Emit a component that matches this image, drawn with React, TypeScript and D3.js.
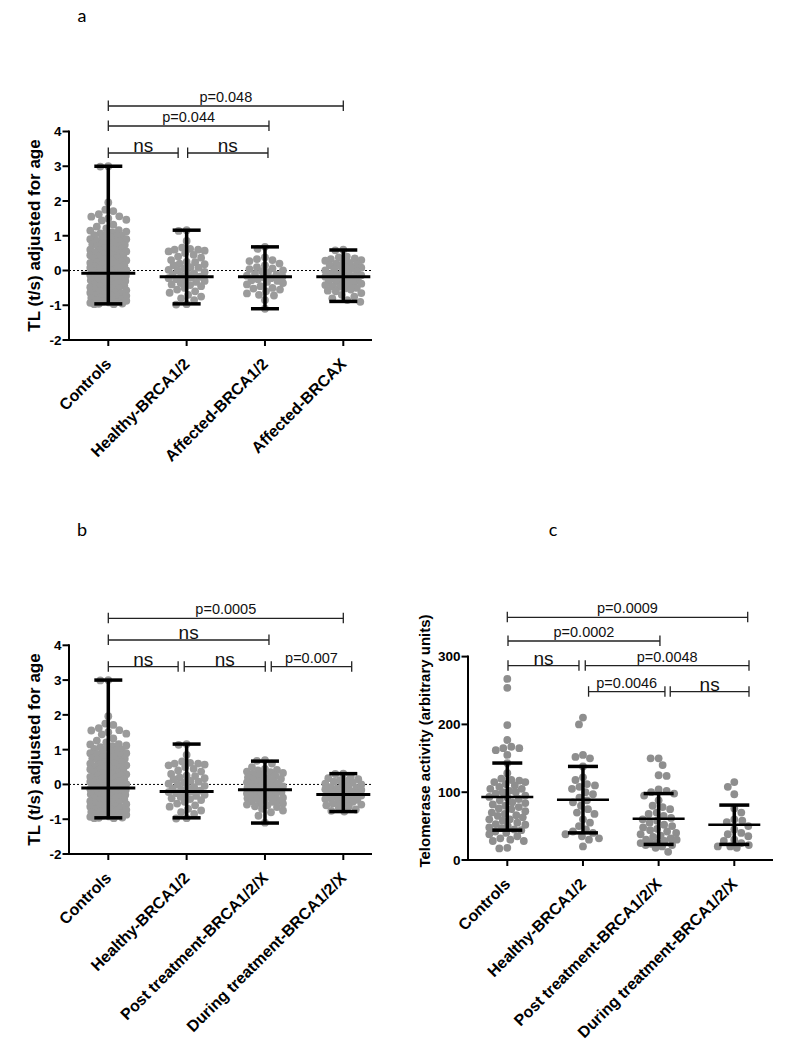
import React, { useMemo } from 'react';
import * as d3 from 'd3';

// ---------- categories ----------
const catsA = ['Controls', 'Healthy-BRCA1/2', 'Affected-BRCA1/2', 'Affected-BRCAX'];
const catsB = ['Controls', 'Healthy-BRCA1/2', 'Post treatment-BRCA1/2/X', 'During treatment-BRCA1/2/X'];
const catsC = ['Controls', 'Healthy-BRCA1/2', 'Post treatment-BRCA1/2/X', 'During treatment-BRCA1/2/X'];

// ---------- tick labels ----------
const tlTicks = [-2, -1, 0, 1, 2, 3, 4];
const taTicks = [0, 100, 200, 300];

// ---------- TL (t/s) adjusted for age ----------
const controlsTL = [3.0, 2.99, 1.96, 1.75, 1.71, 1.62, 1.56, 1.55, 1.5, 1.46, 1.44, 1.32, 1.26, 1.21, 1.16, 1.15, 1.12, 1.1, 1.07, 1.05, 1.02, 1.0, 0.98, 0.95, 0.93, 0.9, 0.9, 0.86, 0.84, 0.82, 0.8, 0.77, 0.75, 0.74, 0.71, 0.7, 0.68, 0.65, 0.63, 0.6, 0.6, 0.58, 0.55, 0.53, 0.52, 0.5, 0.47, 0.45, 0.44, 0.42, 0.4, 0.38, 0.36, 0.35, 0.33, 0.3, 0.29, 0.27, 0.25, 0.22, 0.21, 0.2, 0.17, 0.15, 0.14, 0.12, 0.1, 0.08, 0.06, 0.05, 0.03, 0.01, 0.0, -0.02, -0.04, -0.05, -0.08, -0.1, -0.11, -0.13, -0.15, -0.17, -0.19, -0.2, -0.22, -0.24, -0.26, -0.28, -0.3, -0.31, -0.33, -0.35, -0.37, -0.39, -0.4, -0.42, -0.44, -0.46, -0.48, -0.5, -0.51, -0.53, -0.55, -0.57, -0.58, -0.6, -0.62, -0.64, -0.66, -0.68, -0.7, -0.72, -0.73, -0.75, -0.77, -0.79, -0.8, -0.82, -0.84, -0.85, -0.87, -0.89, -0.9, -0.92, -0.93, -0.95, -0.96, -0.97, -0.97];
const healthyTL = [1.16, 1.14, 0.85, 0.66, 0.62, 0.6, 0.6, 0.57, 0.55, 0.5, 0.45, 0.4, 0.37, 0.3, 0.25, 0.24, 0.2, 0.18, 0.15, 0.1, 0.08, 0.05, 0.02, 0.0, -0.04, -0.08, -0.1, -0.12, -0.15, -0.18, -0.2, -0.22, -0.25, -0.28, -0.3, -0.33, -0.36, -0.4, -0.42, -0.45, -0.5, -0.55, -0.6, -0.64, -0.7, -0.75, -0.8, -0.85, -0.97, -0.98];
const affectedTL = [0.68, 0.62, 0.38, 0.33, 0.3, 0.27, 0.2, 0.15, 0.1, 0.06, 0.04, 0.0, -0.02, -0.05, -0.1, -0.12, -0.15, -0.18, -0.2, -0.22, -0.25, -0.28, -0.3, -0.33, -0.36, -0.4, -0.45, -0.5, -0.52, -0.55, -0.6, -0.66, -0.7, -0.72, -0.85, -1.1];
const brcaxTL = [0.6, 0.58, 0.4, 0.38, 0.35, 0.33, 0.3, 0.28, 0.26, 0.22, 0.2, 0.18, 0.15, 0.12, 0.1, 0.08, 0.05, 0.03, 0.0, -0.02, -0.05, -0.07, -0.1, -0.12, -0.14, -0.16, -0.18, -0.2, -0.22, -0.24, -0.26, -0.28, -0.3, -0.32, -0.34, -0.36, -0.38, -0.4, -0.42, -0.45, -0.47, -0.5, -0.52, -0.55, -0.58, -0.6, -0.65, -0.7, -0.75, -0.8, -0.85, -0.9];
const postTL = [0.7, 0.68, 0.6, 0.5, 0.45, 0.42, 0.4, 0.37, 0.35, 0.33, 0.3, 0.28, 0.25, 0.22, 0.2, 0.18, 0.16, 0.14, 0.12, 0.1, 0.08, 0.06, 0.04, 0.02, 0.0, -0.02, -0.04, -0.06, -0.08, -0.1, -0.12, -0.14, -0.16, -0.18, -0.2, -0.22, -0.24, -0.26, -0.28, -0.3, -0.32, -0.34, -0.36, -0.38, -0.4, -0.42, -0.44, -0.46, -0.48, -0.5, -0.53, -0.55, -0.58, -0.6, -0.63, -0.65, -0.7, -0.75, -0.8, -0.9, -1.1];
const duringTL = [0.31, 0.3, 0.22, 0.18, 0.15, 0.12, 0.1, 0.08, 0.05, 0.02, 0.0, -0.02, -0.05, -0.08, -0.1, -0.12, -0.14, -0.16, -0.18, -0.2, -0.22, -0.24, -0.26, -0.28, -0.3, -0.32, -0.34, -0.36, -0.38, -0.4, -0.42, -0.44, -0.46, -0.48, -0.5, -0.52, -0.55, -0.58, -0.6, -0.63, -0.67, -0.72, -0.76, -0.78];

// summary bars (mean, range)
const meanA = [-0.08, -0.18, -0.18, -0.18];
const lowA = [-0.96, -0.96, -1.1, -0.89];
const highA = [3.0, 1.16, 0.68, 0.59];
const meanB = [-0.1, -0.2, -0.15, -0.29];
const lowB = [-0.96, -0.96, -1.11, -0.78];
const highB = [3.0, 1.16, 0.67, 0.31];

// ---------- Telomerase activity ----------
const controlsTA = [267, 254, 199, 177, 167, 165, 165, 162, 155, 143, 128, 120, 118, 117, 115, 115, 112, 110, 108, 105, 105, 102, 100, 100, 98, 95, 93, 92, 90, 88, 85, 84, 82, 80, 78, 76, 75, 72, 70, 68, 66, 65, 63, 60, 60, 58, 55, 53, 52, 50, 48, 47, 45, 44, 42, 40, 38, 35, 32, 30, 28, 28, 18, 17];
const healthyTA = [210, 200, 155, 152, 150, 138, 122, 118, 112, 110, 108, 105, 100, 97, 92, 88, 85, 80, 75, 70, 68, 60, 55, 50, 45, 42, 40, 38, 35, 32, 30, 20];
const postTA = [150, 150, 140, 125, 124, 104, 102, 100, 98, 95, 88, 80, 78, 75, 70, 68, 65, 62, 60, 58, 55, 52, 50, 48, 46, 44, 42, 40, 38, 36, 34, 32, 30, 30, 28, 26, 25, 24, 22, 22, 20, 18, 12];
const duringTA = [115, 108, 97, 76, 70, 60, 58, 56, 50, 45, 40, 38, 35, 30, 28, 25, 22, 20, 20, 18];
const meanC = [93, 89, 61, 52];
const lowC = [44, 40, 23, 23];
const highC = [143, 138, 98, 81];

// ---------- comparisons ----------
const compFromA = [0, 1, 0, 0];
const compToA = [1, 2, 2, 3];
const compLabelA = ['ns', 'ns', 'p=0.044', 'p=0.048'];
const compFromB = [0, 1, 2, 0, 0];
const compToB = [1, 2, 3, 2, 3];
const compLabelB = ['ns', 'ns', 'p=0.007', 'ns', 'p=0.0005'];
const compFromC = [1, 2, 0, 1, 0, 0];
const compToC = [2, 3, 1, 3, 2, 3];
const compLabelC = ['p=0.0046', 'ns', 'ns', 'p=0.0048', 'p=0.0002', 'p=0.0009'];

// ---------- layout (pixels) ----------
const FONT = "'Liberation Sans', Arial, Helvetica, sans-serif";

function swarm(values: number[], y: (v: number) => number, r: number, maxOff: number) {
  const order = values.map((v, i) => ({ v, i })).sort((a, b) => b.v - a.v);
  const placed: { x: number; y: number }[] = [];
  const cands: number[] = [0];
  for (let k = 0.5; k <= maxOff + 1e-9; k += 0.5) { cands.push(k, -k); }
  order.forEach(({ v }, n) => {
    const py = y(v);
    const nb = placed.filter(p => Math.abs(p.y - py) < 2 * r);
    let found: number | null = null;
    let best = 0, bestScore = -Infinity;
    for (const c0 of cands) {
      const c = n % 2 === 0 ? c0 : -c0;
      let md = Infinity;
      for (const p of nb) { const d = Math.hypot(p.x - c, p.y - py); if (d < md) md = d; }
      if (md >= 2 * r - 0.05) { found = c; break; }
      if (md > bestScore + 0.01) { bestScore = md; best = c; }
    }
    placed.push({ x: found !== null ? found : best, y: py });
  });
  return placed;
}

type PanelCfg = {
  letter: string; letterX: number; letterY: number;
  cats: string[]; groups: number[][]; mean: number[]; low: number[]; high: number[];
  xRange: [number, number]; axisX: number; axisRight: number;
  yDomain: [number, number]; yRange: [number, number]; ticks: number[];
  zeroLine: boolean; yLabel: string; yLabelX: number; yLabelY: number; yLabelSize: number;
  dotColor: string; meanHalf: number; capHalf: number; meanW: number;
  cFrom: number[]; cTo: number[]; cLabel: string[];
  cLevelY: number[]; cNudgeL: number[]; cNudgeR: number[];
};

function Panel({ c }: { c: PanelCfg }) {
  const x = d3.scalePoint<string>().domain(c.cats).range(c.xRange).padding(0);
  const y = d3.scaleLinear().domain(c.yDomain).range(c.yRange);
  const r = 3.9;
  const swarms = useMemo(() => c.groups.map(g => swarm(g, y, r, 18)), [c]);
  const axisY = y(c.yDomain[0]);
  const axisTop = y(c.yDomain[1]);
  return (
    <g>
      <text x={c.letterX} y={c.letterY} fontFamily="Lato, 'Open Sans', sans-serif" fontSize={18} textAnchor="middle">{c.letter}</text>
      {c.zeroLine && (
        <line x1={c.axisX} x2={c.axisRight} y1={y(0)} y2={y(0)} stroke="#000" strokeWidth={1} strokeDasharray="2,2" />
      )}
      {swarms.map((s, gi) => (
        <g key={gi}>
          {s.map((p, i) => (
            <circle key={i} cx={(x(c.cats[gi]) as number) + p.x} cy={p.y} r={r} fill={c.dotColor} />
          ))}
        </g>
      ))}
      {c.cats.map((cat, gi) => {
        const cx = x(cat) as number;
        return (
          <g key={cat} stroke="#000">
            <line x1={cx} x2={cx} y1={y(c.low[gi])} y2={y(c.high[gi])} strokeWidth={3.5} />
            <line x1={cx - c.capHalf} x2={cx + c.capHalf} y1={y(c.low[gi])} y2={y(c.low[gi])} strokeWidth={3.5} />
            <line x1={cx - c.capHalf} x2={cx + c.capHalf} y1={y(c.high[gi])} y2={y(c.high[gi])} strokeWidth={3.5} />
            <line x1={cx - c.meanHalf} x2={cx + c.meanHalf} y1={y(c.mean[gi])} y2={y(c.mean[gi])} strokeWidth={c.meanW} />
          </g>
        );
      })}
      {/* axes */}
      <line x1={c.axisX} x2={c.axisX} y1={axisTop - 1} y2={axisY + 1} stroke="#000" strokeWidth={2} />
      <line x1={c.axisX - 1} x2={c.axisRight} y1={axisY} y2={axisY} stroke="#000" strokeWidth={2} />
      {c.ticks.map(t => (
        <g key={t}>
          <line x1={c.axisX - 6.5} x2={c.axisX} y1={y(t)} y2={y(t)} stroke="#000" strokeWidth={2} />
          <text x={c.axisX - 7.5} y={y(t)} dy="0.36em" textAnchor="end" fontFamily={FONT} fontWeight="bold" fontSize={13.5}>{t}</text>
        </g>
      ))}
      {c.cats.map(cat => {
        const cx = x(cat) as number;
        return (
          <g key={cat}>
            <line x1={cx} x2={cx} y1={axisY} y2={axisY + 6} stroke="#000" strokeWidth={2} />
            <text transform={`translate(${cx + 4},${axisY + 25}) rotate(-45)`} textAnchor="end" fontFamily={FONT} fontWeight="bold" fontSize={16}>{cat}</text>
          </g>
        );
      })}
      <text transform={`translate(${c.yLabelX},${c.yLabelY}) rotate(-90)`} dy="0.35em" textAnchor="middle" fontFamily={FONT} fontWeight="bold" fontSize={c.yLabelSize}>{c.yLabel}</text>
      {/* comparison brackets */}
      {c.cFrom.map((f, i) => {
        const x1 = (x(c.cats[f]) as number) + c.cNudgeL[i];
        const x2 = (x(c.cats[c.cTo[i]]) as number) + c.cNudgeR[i];
        const ly = c.cLevelY[i];
        const isNs = c.cLabel[i] === 'ns';
        return (
          <g key={i}>
            <line x1={x1} x2={x2} y1={ly} y2={ly} stroke="#222" strokeWidth={1.3} />
            <line x1={x1} x2={x1} y1={ly - 5.5} y2={ly + 5} stroke="#222" strokeWidth={1.3} />
            <line x1={x2} x2={x2} y1={ly - 5.5} y2={ly + 5} stroke="#222" strokeWidth={1.3} />
            <text x={(x1 + x2) / 2} y={ly - (isNs ? 1 : 4)} textAnchor="middle" fontFamily={FONT} fontSize={isNs ? 19 : 14.5} fill="#111">{c.cLabel[i]}</text>
          </g>
        );
      })}
    </g>
  );
}

const panelA: PanelCfg = {
  letter: 'a', letterX: 82, letterY: 22,
  cats: catsA, groups: [controlsTL, healthyTL, affectedTL, brcaxTL], mean: meanA, low: lowA, high: highA,
  xRange: [108.3, 343.3], axisX: 69, axisRight: 372,
  yDomain: [-2, 4], yRange: [340, 131.5], ticks: tlTicks, zeroLine: true,
  yLabel: 'TL (t/s) adjusted for age', yLabelX: 34, yLabelY: 235.5, yLabelSize: 17,
  dotColor: '#9b9b9b', meanHalf: 27, capHalf: 14, meanW: 3,
  cFrom: compFromA, cTo: compToA, cLabel: compLabelA,
  cLevelY: [153, 153, 126, 106], cNudgeL: [0, 1, 0, 0], cNudgeR: [-8.5, 3, 4, 0],
};

const panelB: PanelCfg = {
  letter: 'b', letterX: 82, letterY: 536,
  cats: catsB, groups: [controlsTL, healthyTL, postTL, duringTL], mean: meanB, low: lowB, high: highB,
  xRange: [108.3, 343.3], axisX: 69, axisRight: 372,
  yDomain: [-2, 4], yRange: [854, 645.3], ticks: tlTicks, zeroLine: true,
  yLabel: 'TL (t/s) adjusted for age', yLabelX: 34, yLabelY: 749.5, yLabelSize: 17,
  dotColor: '#9b9b9b', meanHalf: 27, capHalf: 14, meanW: 3,
  cFrom: compFromB, cTo: compToB, cLabel: compLabelB,
  cLevelY: [666.7, 666.7, 666.7, 640, 618.3], cNudgeL: [0, -2.4, 6.3, 0, 0], cNudgeR: [-8.5, 0.3, 8.4, 4, 0],
};

const panelC: PanelCfg = {
  letter: 'c', letterX: 553, letterY: 536,
  cats: catsC, groups: [controlsTA, healthyTA, postTA, duringTA], mean: meanC, low: lowC, high: highC,
  xRange: [507.3, 734.3], axisX: 468, axisRight: 773,
  yDomain: [0, 300], yRange: [860, 656.6], ticks: taTicks, zeroLine: false,
  yLabel: 'Telomerase activity (arbitrary units)', yLabelX: 425, yLabelY: 741, yLabelSize: 15,
  dotColor: '#8e8e8e', meanHalf: 26, capHalf: 15, meanW: 2.5,
  cFrom: compFromC, cTo: compToC, cLabel: compLabelC,
  cLevelY: [691.7, 691.7, 665.7, 665.7, 641, 617.3], cNudgeL: [5.6, 11.6, 0.7, 2.3, 0.7, 0], cNudgeR: [6.3, 14.7, -4, 14.7, 1.3, 13.4],
};

export default function App() {
  return (
    <svg width={790} height={1049} viewBox="0 0 790 1049" style={{ position: 'absolute', left: 0, top: 0, background: '#fff' }}>
      <rect x={0} y={0} width={790} height={1049} fill="#fff" />
      <Panel c={panelA} />
      <Panel c={panelB} />
      <Panel c={panelC} />
    </svg>
  );
}
